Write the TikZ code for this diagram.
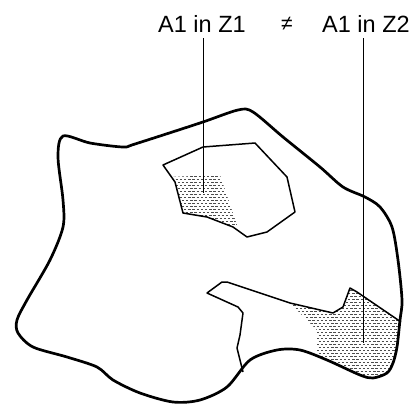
\documentclass[tikz,border=0pt]{standalone}
\usepackage{fontspec}
\setmainfont{Liberation Sans}
\begin{document}
\begin{tikzpicture}[x=1pt,y=-1pt,
  outerline/.style={line width=2.7pt,line join=round},
  innerline/.style={line width=1.5pt,line join=round},
  leader/.style={line width=1pt},
  lbl/.style={font=\fontsize{23.5}{26}\selectfont,inner sep=2pt,anchor=base},
  stipple/.style={black!70,line width=1pt,dash pattern=on 2.4pt off 1.8pt}]
\useasboundingbox (0,0) rectangle (416,405);
% shading Z1
\begin{scope}
  \clip (163,165) -- (203,147) -- (255,143) -- (287,177) -- (295,212) -- (267,232) -- (247,237) -- (233,227) -- (207,217) -- (183,213) -- (175,182) -- cycle;
  \clip (168,177) -- (220,175) -- (237,225) -- (168,228) -- cycle;
  \foreach \i in {0,...,20} {
    \pgfmathsetmacro{\yy}{176+3*\i}
    \pgfmathsetmacro{\ph}{mod(\i,2)*2}
    \draw[stipple,dash phase=\ph pt] (165,\yy) -- (245,\yy);
  }
\end{scope}
% shading Z2
\begin{scope}
  \clip plot[smooth cycle,tension=0.5] coordinates {(63,136) (90,143) (123,147) (135,144) (200,123) (238,110) (253,112) (283,137) (320,167) (343,187) (365,197) (380,207) (392,227) (398,260) (402,300) (400,320) (397,347) (393,363) (387,373) (373,378) (360,375) (327,360) (300,350) (277,350) (250,360) (227,387) (200,400) (173,402) (140,393) (113,380) (97,367) (67,357) (33,347) (18,333) (17,320) (27,300) (50,260) (63,227) (63,200) (58,157)};
  \clip (290,303) -- (333,313) -- (343,307) -- (350,288) -- (357,292) -- (402,322) -- (410,330) -- (410,390) -- (317,390) -- (317,330) -- cycle;
  \foreach \i in {0,...,32} {
    \pgfmathsetmacro{\yy}{287+3*\i}
    \pgfmathsetmacro{\ph}{mod(\i,2)*2}
    \draw[stipple,dash phase=\ph pt] (285,\yy) -- (410,\yy);
  }
\end{scope}
% outer blob
\draw[outerline] plot[smooth cycle,tension=0.5] coordinates {(63,136) (90,143) (123,147) (135,144) (200,123) (238,110) (253,112) (283,137) (320,167) (343,187) (365,197) (380,207) (392,227) (398,260) (402,300) (400,320) (397,347) (393,363) (387,373) (373,378) (360,375) (327,360) (300,350) (277,350) (250,360) (227,387) (200,400) (173,402) (140,393) (113,380) (97,367) (67,357) (33,347) (18,333) (17,320) (27,300) (50,260) (63,227) (63,200) (58,157)};
% inner polygon Z1
\draw[innerline] (163,165) -- (203,147) -- (255,143) -- (287,177) -- (295,212) -- (267,232) -- (247,237) -- (233,227) -- (207,217) -- (183,213) -- (175,182) -- cycle;
% peninsula Z2
\draw[innerline] (243,372) -- (240,360) -- (237,348) -- (240,335) -- (243,313) -- (238,307) -- (207,293) -- (222,282) -- (227,282) -- (290,303) -- (333,313) -- (343,307) -- (350,288) -- (357,292) -- (401,322);
% labels
\node[lbl] (t1) at (202,32) {A1 in Z1};
\node[lbl,font=\fontsize{21}{24}\selectfont] (neq) at (287,30) {≠};
\node[lbl] (t2) at (366,32) {A1 in Z2};
\coordinate (p1) at (203,193);
\coordinate (p2) at (363,343);
\draw[leader] ([yshift=-4pt]t1.south -| p1) -- (p1);
\draw[leader] ([yshift=-4pt]t2.south -| p2) -- (p2);
\end{tikzpicture}
\end{document}
